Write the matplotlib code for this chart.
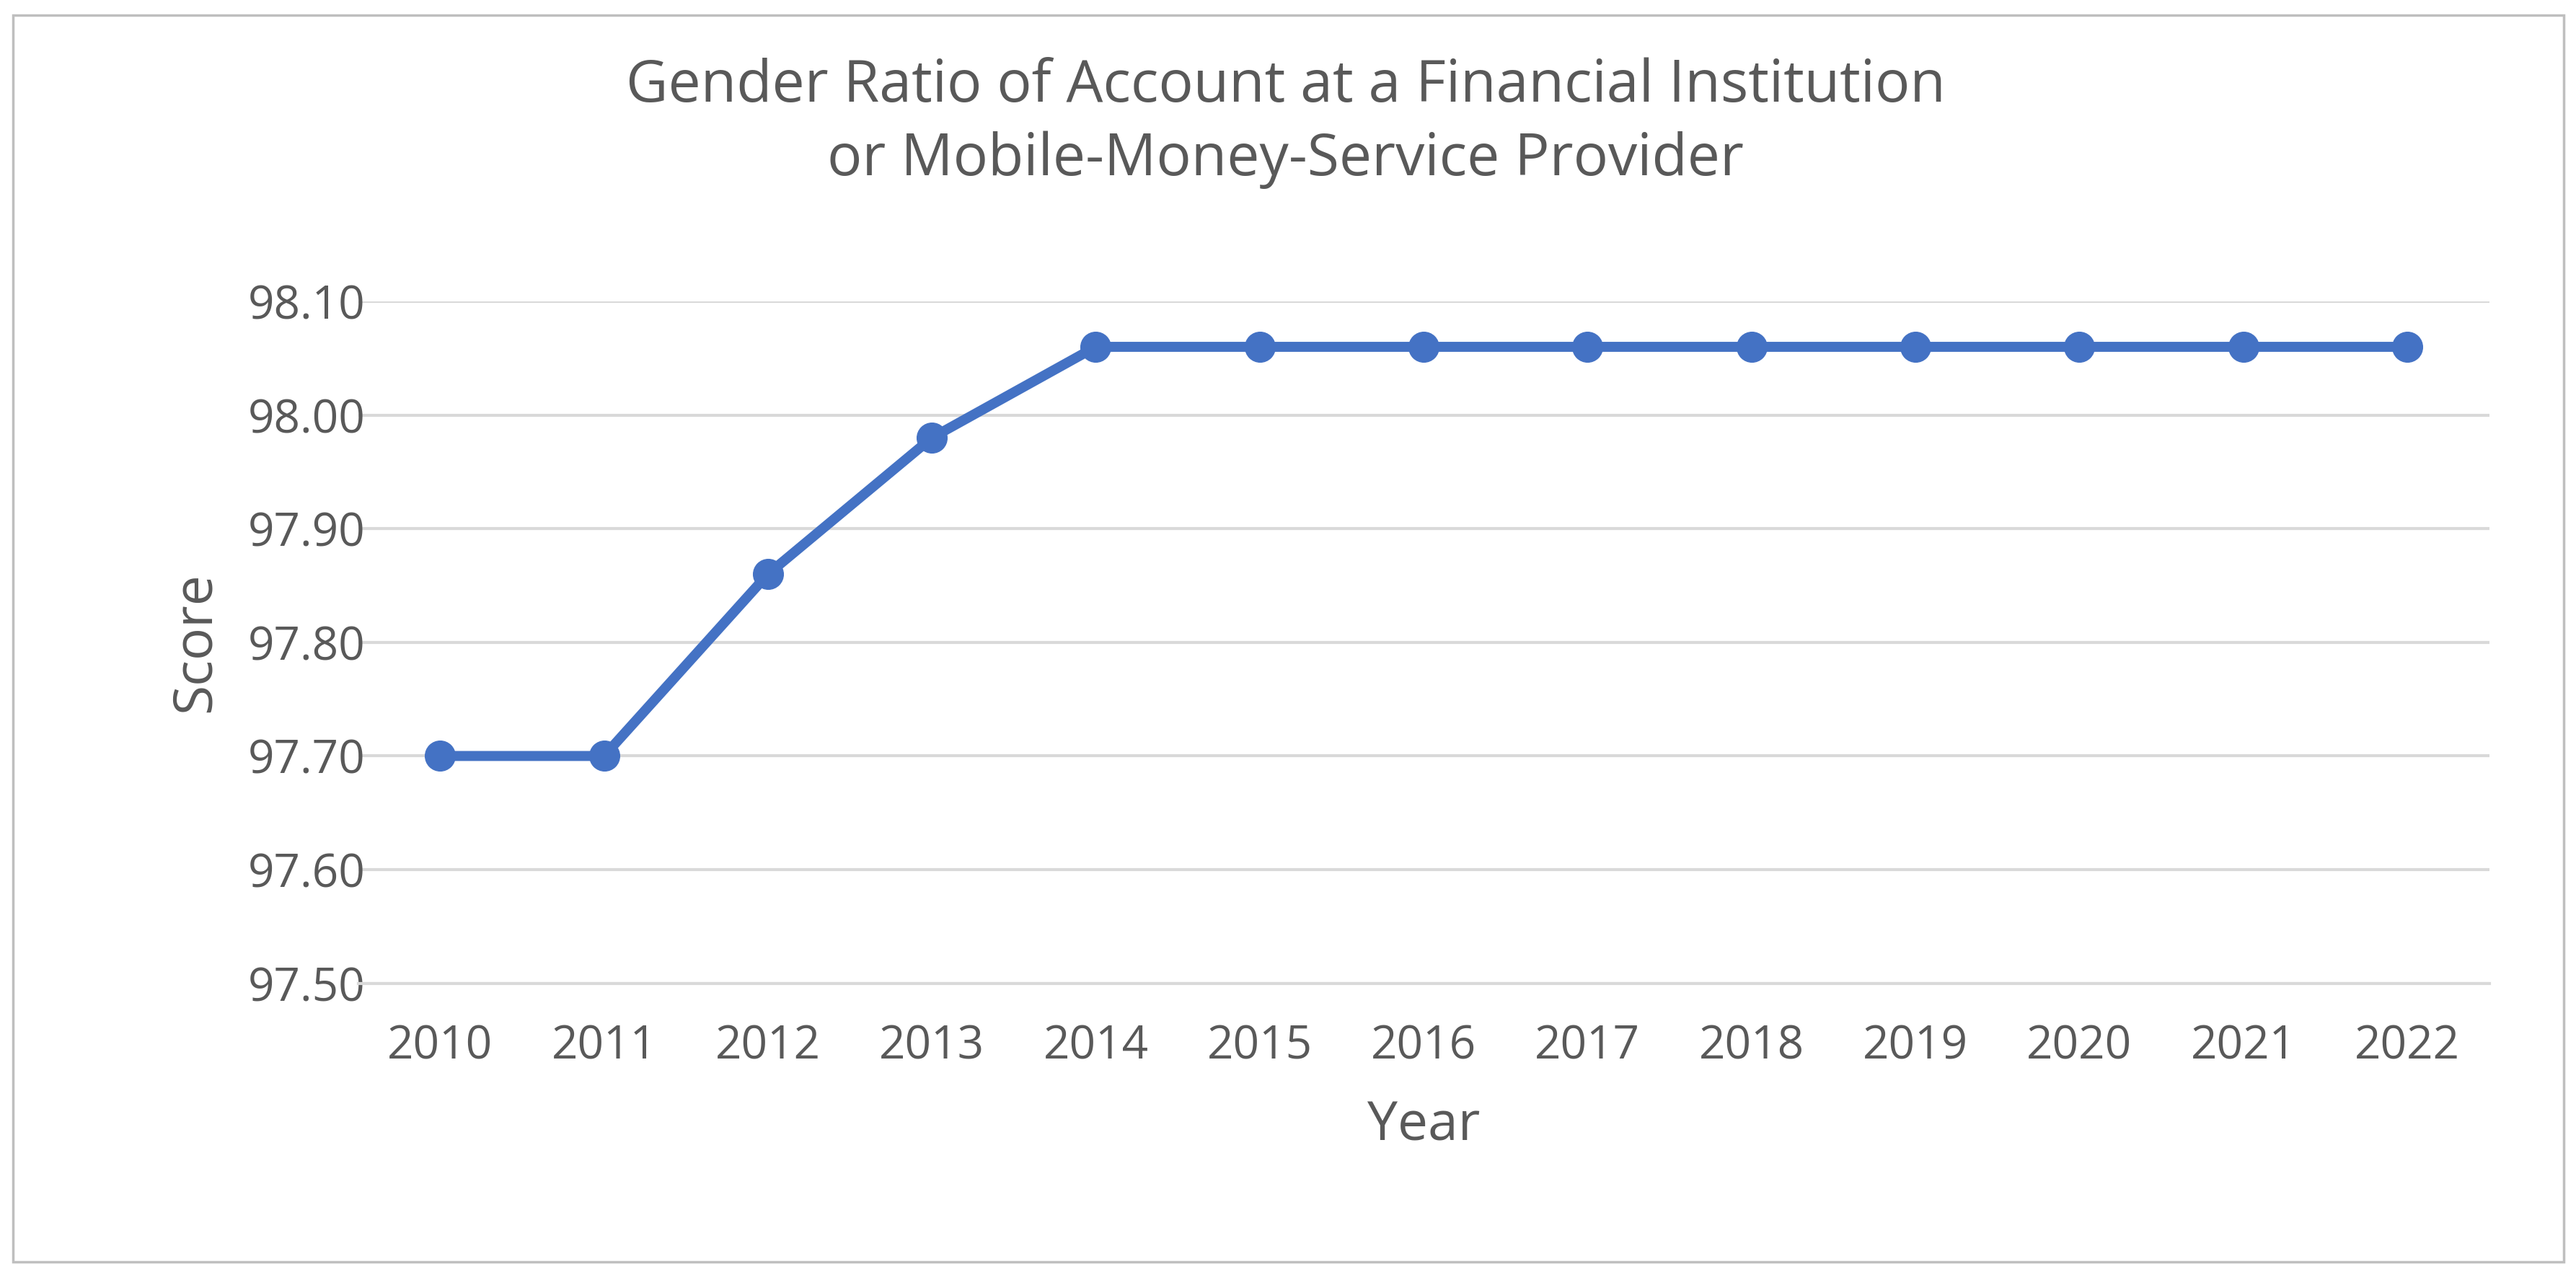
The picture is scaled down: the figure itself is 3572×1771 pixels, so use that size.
import matplotlib
matplotlib.use("Agg")
import matplotlib.pyplot as plt
from matplotlib.patches import Rectangle

years = ["2010","2011","2012","2013","2014","2015","2016","2017","2018","2019","2020","2021","2022"]
scores = [97.70, 97.70, 97.86, 97.98, 98.06, 98.06, 98.06, 98.06, 98.06, 98.06, 98.06, 98.06, 98.06]
yticks = [97.50, 97.60, 97.70, 97.80, 97.90, 98.00, 98.10]

plt.rcParams['font.family'] = ['Open Sans', 'DejaVu Sans']
gray = '#595959'
fig = plt.figure(figsize=(35.73, 17.71), dpi=100)
fig.patches.append(Rectangle((0.005, 0.012), 0.99, 0.976, transform=fig.transFigure,
                             fill=False, edgecolor='#BFBFBF', linewidth=2.5))
ax = fig.add_axes([0.139, 0.230, 0.827, 0.534])
x = list(range(len(years)))
ax.plot(x, scores, color='#4472C4', linewidth=10, marker='o', markersize=30, zorder=3)
ax.set_xlim(-0.5, len(years) - 0.5)
ax.set_ylim(97.50, 98.10)
ax.set_yticks(yticks)
ax.set_yticklabels([f"{v:.2f}" for v in yticks])
ax.set_xticks(x)
ax.set_xticklabels(years)
ax.grid(axis='y', color='#D9D9D9', linewidth=3)
ax.set_axisbelow(True)
for s in ['top', 'right', 'left']:
    ax.spines[s].set_visible(False)
ax.spines['bottom'].set_color('#D9D9D9')
ax.spines['bottom'].set_linewidth(3)
ax.tick_params(length=0, labelsize=46, labelcolor=gray)
ax.tick_params(axis='y', pad=110)
ax.tick_params(axis='x', pad=40)
for lbl in ax.get_yticklabels():
    lbl.set_horizontalalignment('left')
ax.set_xlabel("Year", fontsize=54, color=gray, labelpad=30)
ax.set_ylabel("Score", fontsize=54, color=gray, labelpad=25)
fig.text(0.499, 0.955, "Gender Ratio of Account at a Financial Institution\nor Mobile-Money-Service Provider",
         ha='center', va='top', fontsize=58, color=gray, linespacing=1.35)
fig.savefig("out.png", dpi=100)
